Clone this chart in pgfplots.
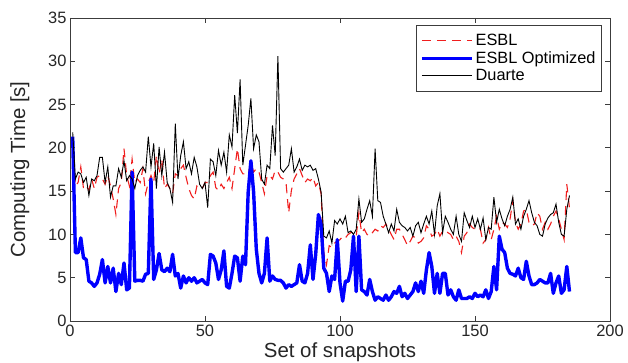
\documentclass[border=0pt]{standalone}
\usepackage{fontspec}
\setmainfont{Liberation Sans}
\usepackage{pgfplots}
\usepackage{pgfplotstable}
\pgfplotsset{compat=1.18}
\pgfplotstableread{
x esbl opt duarte
1 20.5 21.3 21.8
2 15.6 7.9 16.4
3 16.0 7.9 17.2
4 17.8 9.6 17.0
5 15.3 7.3 16.0
6 15.6 7.1 16.6
7 15.1 4.6 14.5
8 16.4 4.4 16.4
9 15.3 4.0 16.2
10 16.6 4.4 16.8
11 16.8 5.4 18.9
12 16.4 7.1 18.9
13 15.8 4.4 16.0
14 16.8 6.3 17.8
15 15.6 4.4 14.3
16 14.1 6.1 15.6
17 12.3 3.4 15.6
18 15.3 5.5 17.6
19 16.0 4.2 16.6
20 19.9 6.7 18.5
21 16.8 3.6 16.2
22 15.6 3.8 16.8
23 18.7 17.2 16.4
24 16.0 4.6 15.3
25 16.4 4.7 16.8
26 16.0 4.7 17.4
27 17.6 4.6 17.8
28 14.7 5.4 17.2
29 16.0 5.5 21.3
30 16.8 16.4 17.8
31 16.0 4.8 20.5
32 19.1 5.9 15.3
33 17.0 7.8 20.1
34 18.7 5.9 16.8
35 15.3 5.7 19.5
36 15.8 6.1 16.0
37 15.3 5.7 15.3
38 14.7 7.7 13.7
39 17.0 5.2 22.8
40 16.8 5.5 16.4
41 17.6 3.8 19.1
42 18.0 5.2 20.7
43 16.6 4.4 17.6
44 15.3 5.0 18.4
45 14.5 4.6 17.0
46 14.1 5.0 18.9
47 15.6 4.4 17.8
48 15.3 4.6 15.8
49 15.3 4.8 15.3
50 16.0 4.4 16.0
51 16.0 4.2 13.1
52 16.8 7.7 18.7
53 17.2 7.5 18.4
54 15.4 6.7 16.8
55 15.1 4.8 19.7
56 15.8 5.9 18.0
57 15.3 8.1 19.5
58 16.0 4.0 17.2
59 16.6 3.8 21.5
60 15.3 5.5 20.1
61 17.6 7.5 26.1
62 19.9 7.3 21.7
63 17.6 4.6 27.9
64 17.0 7.5 18.0
65 17.0 6.5 20.3
66 17.0 14.9 22.6
67 18.4 18.5 25.7
68 17.2 14.9 19.9
69 17.6 8.3 21.5
70 17.2 5.5 20.7
71 16.0 4.4 16.4
72 14.7 5.5 15.8
73 16.8 9.6 18.0
74 16.8 4.6 17.6
75 16.4 5.2 22.6
76 17.4 4.8 19.1
77 17.2 4.7 30.6
78 16.6 4.7 17.6
79 16.4 4.4 17.2
80 16.0 3.8 17.6
81 12.5 4.2 18.0
82 15.1 4.0 19.9
83 16.4 4.2 17.2
84 17.0 4.4 17.8
85 17.6 6.5 18.7
86 16.8 4.6 17.4
87 16.0 4.4 18.0
88 16.4 5.5 17.8
89 16.2 8.8 18.0
90 16.6 4.8 17.4
91 15.6 7.7 17.6
92 16.0 12.3 16.4
93 14.7 11.2 14.9
94 7.9 6.1 9.8
95 6.5 5.5 9.6
96 8.7 3.4 10.4
97 8.5 5.2 9.0
98 9.0 4.8 11.6
99 9.2 9.4 11.2
100 9.4 4.4 11.8
101 9.8 2.3 11.2
102 9.6 4.6 12.1
103 10.0 4.6 10.2
104 10.2 5.9 10.4
105 10.2 9.8 10.0
106 9.8 3.4 10.6
107 12.5 9.8 14.1
108 10.2 3.6 11.4
109 10.6 3.4 11.8
110 10.0 3.0 12.9
111 9.8 4.8 13.9
112 10.2 3.4 12.1
113 10.6 2.4 19.9
114 10.4 2.8 13.9
115 11.0 2.6 13.7
116 10.8 2.4 12.1
117 11.2 3.0 11.2
118 10.6 2.4 10.2
119 10.0 2.8 11.2
120 9.4 3.4 10.4
121 10.6 3.2 12.9
122 10.6 4.0 11.4
123 10.0 2.8 11.0
124 9.4 3.2 10.8
125 8.7 2.6 10.4
126 9.2 3.0 10.8
127 9.8 3.4 9.8
128 9.6 4.4 11.0
129 9.0 3.4 11.4
130 9.2 4.6 10.2
131 9.6 3.2 11.2
132 11.0 5.9 12.1
133 10.6 7.9 11.2
134 9.8 6.3 12.7
135 10.0 3.2 10.0
136 10.6 5.5 13.3
137 9.8 3.2 14.7
138 10.4 5.5 10.2
139 10.4 5.5 12.1
140 10.2 3.0 11.4
141 10.0 3.6 10.6
142 9.4 2.8 10.0
143 9.8 2.4 12.1
144 9.2 3.6 10.0
145 7.9 2.6 9.2
146 9.8 2.6 12.5
147 10.2 2.6 11.6
148 11.2 2.8 10.8
149 10.8 2.6 12.1
150 10.6 3.2 10.8
151 10.8 2.8 11.8
152 10.6 3.0 10.6
153 9.0 2.8 11.9
154 9.4 3.6 9.4
155 10.8 2.6 10.8
156 9.4 3.4 10.6
157 10.6 6.3 14.3
158 12.1 3.6 11.4
159 10.6 9.8 12.9
160 11.4 8.3 11.8
161 11.2 7.9 11.0
162 10.8 6.1 12.1
163 11.8 5.5 12.9
164 13.9 5.4 14.3
165 11.4 5.2 11.2
166 10.6 6.1 11.8
167 11.2 5.0 10.6
168 12.7 4.8 12.1
169 12.9 6.9 12.9
170 11.4 5.2 13.9
171 11.0 4.2 12.5
172 11.2 4.2 11.4
173 12.5 4.4 11.0
174 12.1 4.8 10.0
175 10.6 4.6 9.8
176 11.4 4.4 11.2
177 10.6 4.4 11.9
178 11.2 5.5 12.3
179 12.1 3.2 12.5
180 12.7 4.4 13.5
181 11.8 5.2 11.4
182 10.6 3.2 10.0
183 9.4 3.6 9.8
184 15.8 6.3 12.9
185 13.0 3.4 14.5
}\data
\definecolor{axgray}{RGB}{60,60,60}
\definecolor{esblred}{RGB}{240,30,30}
\begin{document}
\begin{tikzpicture}
\useasboundingbox (-70bp,-42bp) rectangle (558bp,321bp);
\begin{axis}[
  at={(0,0)}, anchor=south west,
  scale only axis, width=540bp, height=303bp,
  xmin=0, xmax=200, ymin=0, ymax=35,
  xtick={0,50,...,200}, ytick={0,5,...,35},
  tick align=inside, major tick length=5bp,
  axis line style={axgray, line width=0.8bp},
  every tick/.style={axgray, line width=0.8bp},
  /pgf/number format/assume math mode=true,
  tick label style={font=\fontsize{16.5}{18}\selectfont, text=black!85},
  xticklabel style={yshift=-1bp},
  label style={font=\fontsize{20.5}{23}\selectfont, text=black!85},
  xlabel={Set of snapshots},
  ylabel={Computing Time [s]},
  xlabel style={at={(axis description cs:0.5,-0.122)}, anchor=base},
  ylabel style={at={(axis description cs:-0.0833,0.5)}, anchor=base},
  legend cell align=left,
  legend style={at={(0.985,0.977)}, anchor=north east, draw=axgray, line width=0.8bp,
    font=\fontsize{16.4}{18}\selectfont, inner xsep=4bp, inner ysep=7bp, row sep=0.5bp,
    /tikz/every even column/.append style={column sep=4bp}},
  legend image code/.code={\draw[#1] (0bp,0bp) -- (50bp,0bp);},
]
\addplot[esblred, line width=1.1bp, dash pattern=on 9bp off 6bp] table[x=x, y=esbl] {\data};
\addlegendentry{ESBL}
\addplot[blue, line width=3.4bp, line join=round] table[x=x, y=opt] {\data};
\addlegendentry{ESBL Optimized}
\addplot[black, line width=0.9bp] table[x=x, y=duarte] {\data};
\addlegendentry{Duarte}
\end{axis}
\end{tikzpicture}
\end{document}
